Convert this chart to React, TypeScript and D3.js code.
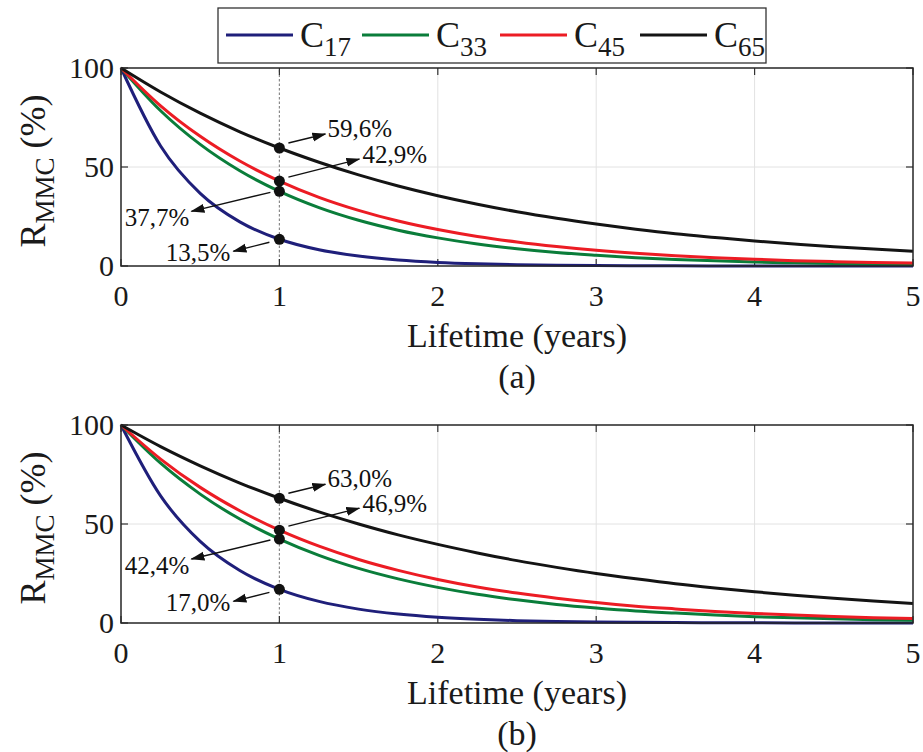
import React from "react";
import * as d3 from "d3";

const years = [0, 0.25, 0.5, 0.75, 1, 1.25, 1.5, 1.75, 2, 2.25, 2.5, 2.75, 3, 3.25, 3.5, 3.75, 4, 4.25, 4.5, 4.75, 5];

// Panel (a)
const a_C17 = [100, 60.6, 36.7, 22.3, 13.5, 8.2, 5.0, 3.0, 1.8, 1.1, 0.67, 0.41, 0.25, 0.15, 0.09, 0.055, 0.033, 0.02, 0.012, 0.007, 0.005];
const a_C33 = [100, 78.4, 61.4, 48.1, 37.7, 29.5, 23.1, 18.1, 14.2, 11.1, 8.7, 6.8, 5.4, 4.2, 3.3, 2.6, 2.0, 1.6, 1.24, 0.97, 0.76];
const a_C45 = [100, 80.9, 65.5, 53.0, 42.9, 34.7, 28.1, 22.7, 18.4, 14.9, 12.1, 9.8, 7.9, 6.4, 5.2, 4.2, 3.4, 2.7, 2.2, 1.8, 1.45];
const a_C65 = [100, 87.9, 77.2, 67.8, 59.6, 52.4, 46.0, 40.4, 35.5, 31.2, 27.4, 24.1, 21.2, 18.6, 16.3, 14.4, 12.6, 11.1, 9.7, 8.6, 7.5];

// Panel (b)
const b_C17 = [100, 64.2, 41.2, 26.5, 17.0, 10.9, 7.0, 4.5, 2.89, 1.86, 1.19, 0.77, 0.49, 0.32, 0.2, 0.13, 0.08, 0.05, 0.03, 0.02, 0.014];
const b_C33 = [100, 80.7, 65.1, 52.5, 42.4, 34.2, 27.6, 22.3, 18.0, 14.5, 11.7, 9.4, 7.6, 6.1, 5.0, 4.0, 3.2, 2.6, 2.1, 1.7, 1.4];
const b_C45 = [100, 82.8, 68.5, 56.7, 46.9, 38.8, 32.1, 26.6, 22.0, 18.2, 15.1, 12.5, 10.3, 8.5, 7.1, 5.8, 4.8, 4.0, 3.3, 2.7, 2.3];
const b_C65 = [100, 89.1, 79.4, 70.7, 63.0, 56.1, 50.0, 44.5, 39.7, 35.4, 31.5, 28.1, 25.0, 22.3, 19.8, 17.7, 15.8, 14.0, 12.5, 11.1, 9.9];

const seriesNames = ["17", "33", "45", "65"];
const seriesColors = ["#1f1f7a", "#0a7d3a", "#ec1c24", "#141414"];
const xTicks = [0, 1, 2, 3, 4, 5];
const yTicks = [0, 50, 100];
const markerYear = 1;
const panelLetters = ["(a)", "(b)"];

const FONT = "Times New Roman";
const fontStyle = { fontFamily: "'Liberation Serif', 'Times New Roman', Tinos, serif" };

const annLayout = [
  { sx: -10, sy: 3, ex: -46, ey: 12, tx: -49, ty: 22, anchor: "end" },
  { sx: -9, sy: 1, ex: -88, ey: 20, tx: -90, ty: 35, anchor: "end" },
  { sx: 9, sy: -4, ex: 80, ey: -22, tx: 83, ty: -18, anchor: "start" },
  { sx: 9, sy: -5, ex: 46, ey: -14, tx: 48, ty: -11, anchor: "start" },
];

function Panel({ series, top }: { series: number[][]; top: number }) {
  const x = d3.scaleLinear().domain([0, 5]).range([121, 913]);
  const y = d3.scaleLinear().domain([0, 100]).range([top + 198, top]);
  const line = d3
    .line<number>()
    .x((_, i) => x(years[i]))
    .y((d) => y(d))
    .curve(d3.curveMonotoneX);
  const idx = years.indexOf(markerYear);
  const x0 = x.range()[0], x1 = x.range()[1];
  const y0 = y.range()[0], y1 = y.range()[1];
  return (
    <g>
      {xTicks.slice(1, -1).map((t) =>
        t === markerYear ? null : (
          <line key={"gx" + t} x1={x(t)} x2={x(t)} y1={y0} y2={y1} stroke="#e2e2e2" strokeWidth={1} />
        )
      )}
      {yTicks.slice(1, -1).map((t) => (
        <line key={"gy" + t} x1={x0} x2={x1} y1={y(t)} y2={y(t)} stroke="#e2e2e2" strokeWidth={1} />
      ))}
      <line x1={x(markerYear)} x2={x(markerYear)} y1={y0} y2={y1} stroke="#8a8a8a" strokeWidth={1.2} strokeDasharray="2.5,2" />
      {xTicks.map((t) => (
        <g key={"tx" + t}>
          <line x1={x(t)} x2={x(t)} y1={y0} y2={y0 - 7} stroke="#333" strokeWidth={1.2} />
          <line x1={x(t)} x2={x(t)} y1={y1} y2={y1 + 7} stroke="#333" strokeWidth={1.2} />
        </g>
      ))}
      {yTicks.map((t) => (
        <g key={"ty" + t}>
          <line x1={x0} x2={x0 + 7} y1={y(t)} y2={y(t)} stroke="#333" strokeWidth={1.2} />
          <line x1={x1} x2={x1 - 7} y1={y(t)} y2={y(t)} stroke="#333" strokeWidth={1.2} />
        </g>
      ))}
      {series.map((s, i) => (
        <path key={"c" + i} d={line(s) || ""} fill="none" stroke={seriesColors[i]} strokeWidth={3} />
      ))}
      <rect x={x0} y={y1} width={x1 - x0} height={y0 - y1} fill="none" stroke="#262626" strokeWidth={1.5} />
      {series.map((s, i) => {
        const mx = x(markerYear), my = y(s[idx]);
        const L = annLayout[i];
        const label = s[idx].toFixed(1).replace(".", ",") + "%";
        return (
          <g key={"a" + i}>
            <line x1={mx + L.sx} y1={my + L.sy} x2={mx + L.ex} y2={my + L.ey} stroke="#111" strokeWidth={1.4} markerEnd="url(#arrowHead)" />
            <circle cx={mx} cy={my} r={5.5} fill="#111" />
            <text x={mx + L.tx} y={my + L.ty} textAnchor={L.anchor as any} fontSize={25} fontFamily={FONT} style={fontStyle} fill="#111">{label}</text>
          </g>
        );
      })}
      {xTicks.map((t) => (
        <text key={"xl" + t} x={x(t)} y={y0 + 40} textAnchor="middle" fontSize={30} fontFamily={FONT} style={fontStyle} fill="#1a1a1a">{t}</text>
      ))}
      {yTicks.map((t) => (
        <text key={"yl" + t} x={x0 - 7} y={y(t) + 10} textAnchor="end" fontSize={30} fontFamily={FONT} style={fontStyle} fill="#1a1a1a">{t}</text>
      ))}
      <text x={(x0 + x1) / 2} y={y0 + 81} textAnchor="middle" fontSize={34} fontFamily={FONT} style={fontStyle} fill="#1a1a1a">Lifetime (years)</text>
      <g transform={`translate(45, ${(y0 + y1) / 2 + 4}) rotate(-90)`}>
        <text textAnchor="middle" fontSize={36} fontFamily={FONT} style={fontStyle} fill="#1a1a1a">
          R<tspan fontSize={27} dy={9}>MMC</tspan><tspan dy={-9}> (%)</tspan>
        </text>
      </g>
    </g>
  );
}

export default function App() {
  const panels = [
    [a_C17, a_C33, a_C45, a_C65],
    [b_C17, b_C33, b_C45, b_C65],
  ];
  const tops = [68, 425];
  const legendItems = seriesNames.map((n, i) => ({ n, c: seriesColors[i], x: [226, 362, 500, 640][i] }));
  return (
    <svg width={923} height={752} fontFamily={FONT} style={{ position: "absolute", left: 0, top: 0, background: "#fff", ...fontStyle }}>
      <defs>
        <marker id="arrowHead" markerUnits="userSpaceOnUse" markerWidth={14} markerHeight={10} refX={13} refY={5} orient="auto">
          <path d="M0,0.5 L14,5 L0,9.5 Z" fill="#111" />
        </marker>
      </defs>
      <rect x={0} y={0} width={923} height={752} fill="#fff" />
      {panels.map((p, i) => (
        <g key={i}>
          <Panel series={p} top={tops[i]} />
          <text x={517} y={tops[i] + 320} textAnchor="middle" fontSize={34} fontFamily={FONT} style={fontStyle} fill="#1a1a1a">{panelLetters[i]}</text>
        </g>
      ))}
      <rect x={218} y={8} width={548} height={55} fill="#fff" stroke="#333" strokeWidth={1.3} />
      {legendItems.map((it) => (
        <g key={it.n}>
          <line x1={it.x} x2={it.x + 67} y1={35} y2={35} stroke={it.c} strokeWidth={3} />
          <text x={it.x + 74} y={47} fontSize={36} fontFamily={FONT} style={fontStyle} fill="#1a1a1a">
            C<tspan fontSize={27} dy={9}>{it.n}</tspan>
          </text>
        </g>
      ))}
    </svg>
  );
}
